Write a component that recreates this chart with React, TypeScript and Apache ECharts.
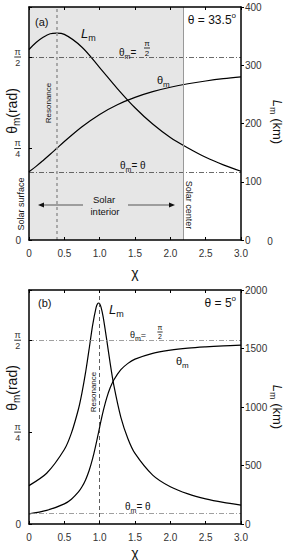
import React, { useEffect, useRef } from "react";
import * as echarts from "echarts";

// ---------- data ----------
// Panel (a): theta = 33.5 deg
const chiA = [0, 0.1, 0.2, 0.3, 0.39, 0.5, 0.75, 1.0, 1.25, 1.5, 1.75, 2.0, 2.25, 2.5, 2.75, 3.0];
const thetaMA = [0.585, 0.632, 0.683, 0.736, 0.785, 0.845, 0.972, 1.078, 1.161, 1.224, 1.273, 1.311, 1.341, 1.365, 1.385, 1.401];
const lmA = [327, 339, 348, 354, 355, 353, 331, 296, 260, 227, 199, 176, 158, 142, 129, 118];

// Panel (b): theta = 5 deg
const chiB = [0, 0.25, 0.5, 0.6, 0.7, 0.75, 0.8, 0.85, 0.9, 0.95, 0.97, 0.985, 1.0, 1.02, 1.05, 1.1, 1.15, 1.2, 1.3, 1.4, 1.5, 1.75, 2.0, 2.25, 2.5, 2.75, 3.0];
const thetaMB = [0.087, 0.116, 0.172, 0.212, 0.274, 0.318, 0.377, 0.455, 0.558, 0.687, 0.743, 0.785, 0.829, 0.885, 0.965, 1.078, 1.166, 1.231, 1.319, 1.373, 1.409, 1.459, 1.486, 1.503, 1.514, 1.522, 1.528];
const lmB = [328, 434, 637, 777, 983, 1123, 1293, 1492, 1698, 1852, 1882, 1889, 1882, 1851, 1768, 1574, 1368, 1186, 911, 729, 603, 418, 318, 257, 215, 185, 162];

const thetaA = (33.5 * Math.PI) / 180;
const thetaB = (5 * Math.PI) / 180;
const resonanceA = 0.39;
const resonanceB = 1.0;
const solarCenterChi = 2.18;

const xTickLabels = ["0", "0.5", "1.0", "1.5", "2.0", "2.5", "3.0"];
const rightMaxA = 400;
const rightStepA = 100;
const rightMaxB = 2000;
const rightStepB = 500;

const FONT = "'Liberation Sans', Arial, sans-serif";
const LABEL_COLOR = "#333";

const fracRich = (fs: number) => ({
  n: { fontSize: fs, lineHeight: fs, align: "center", fontFamily: FONT, color: LABEL_COLOR },
  b: { width: fs * 0.75, height: 1, lineHeight: 2, backgroundColor: "#333", fontSize: 1, align: "center" },
  d: { fontSize: fs, lineHeight: fs, align: "center", fontFamily: FONT, color: LABEL_COLOR },
});

function axesFor(grid: number, rMax: number, rStep: number) {
  const xBase = {
    type: "value",
    gridIndex: grid,
    min: 0,
    max: 3,
    interval: 0.5,
    splitLine: { show: false },
    axisLine: { show: true, onZero: false, lineStyle: { color: "#000", width: 1.5 } },
    axisTick: { show: true, inside: true, length: 3, lineStyle: { color: "#000", width: 1 } },
    z: 5,
  };
  const xs = [
    {
      ...xBase,
      position: "bottom",
      axisLabel: {
        color: LABEL_COLOR,
        fontSize: 10,
        fontFamily: FONT,
        margin: 8,
        formatter: (v: number) => xTickLabels[Math.round(v / 0.5)] ?? "",
      },
    },
    { ...xBase, position: "top", axisLabel: { show: false } },
  ];
  const ys = [
    {
      type: "value",
      gridIndex: grid,
      min: 0,
      max: 2,
      interval: Math.PI / 4,
      position: "left",
      splitLine: { show: false },
      axisLine: { show: true, onZero: false, lineStyle: { color: "#000", width: 1.5 } },
      axisTick: { show: true, inside: true, length: 3, lineStyle: { color: "#000" } },
      axisLabel: {
        margin: 8,
        color: LABEL_COLOR,
        fontSize: 10,
        fontFamily: FONT,
        rich: fracRich(9),
        formatter: (v: number) => {
          if (v === 0) return "0";
          if (Math.abs(v - Math.PI / 4) < 1e-6) return "{n|π}\n{b| }\n{d|4}";
          if (Math.abs(v - Math.PI / 2) < 1e-6) return "{n|π}\n{b| }\n{d|2}";
          return "";
        },
      },
      z: 5,
    },
    {
      type: "value",
      gridIndex: grid,
      min: 0,
      max: rMax,
      interval: rStep,
      position: "right",
      splitLine: { show: false },
      axisLine: { show: true, onZero: false, lineStyle: { color: "#000", width: 1.5 } },
      axisTick: { show: true, inside: false, length: 3, lineStyle: { color: "#000" } },
      axisLabel: {
        margin: 4,
        color: LABEL_COLOR,
        fontSize: 10,
        fontFamily: FONT,
        formatter: (v: number) => String(Math.round(v)),
      },
      z: 5,
    },
  ];
  return { xs, ys };
}

const dashDot = (color: string) => ({ color, width: 0.8, type: [5, 2, 1, 2] as any });

function curve(xIdx: number, yIdx: number, chi: number[], vals: number[], extra: any = {}) {
  return {
    type: "line",
    xAxisIndex: xIdx,
    yAxisIndex: yIdx,
    data: chi.map((c, i) => [c, vals[i]]),
    smooth: 0.35,
    symbol: "none",
    showSymbol: false,
    silent: true,
    lineStyle: { color: "#000", width: 1.2 },
    z: 3,
    ...extra,
  };
}

const sub = (main: number, s: number, italic = false) => ({
  t: { fontSize: main, lineHeight: main + 5, verticalAlign: "middle", fontFamily: FONT, fontStyle: italic ? "italic" : "normal", color: "#111" },
  s: { fontSize: s, lineHeight: s, verticalAlign: "bottom", fontFamily: FONT, color: "#111" },
  u: { fontSize: main, lineHeight: main + 5, verticalAlign: "middle", fontFamily: FONT, color: "#111" },
  o: { fontSize: s, lineHeight: s, verticalAlign: "top", fontFamily: FONT, color: "#111" },
});

function txt(x: number, y: number, text: string, opt: any = {}) {
  const align = opt.align ?? "center";
  const valign = opt.valign ?? "middle";
  return {
    type: "text",
    x,
    y,
    rotation: opt.rotation ?? 0,
    silent: true,
    z: 20,
    style: {
      text,
      fill: opt.color ?? "#111",
      fontSize: opt.fontSize ?? 10,
      fontFamily: FONT,
      fontStyle: opt.fontStyle ?? "normal",
      textAlign: align,
      textVerticalAlign: valign,
      align,
      verticalAlign: valign,
      rich: opt.rich,
    },
  };
}

function frac(x: number, y: number, d: string, fs: number) {
  return txt(x, y, `{n|π}\n{b| }\n{d|${d}}`, { rich: fracRich(fs) });
}

function arrow(x1: number, x2: number, y: number) {
  const dir = x2 > x1 ? 1 : -1;
  return [
    { type: "line", silent: true, z: 20, shape: { x1, y1: y, x2: x2 - dir * 4, y2: y }, style: { stroke: "#555", lineWidth: 1.2 } },
    {
      type: "polygon",
      silent: true,
      z: 20,
      shape: { points: [[x2, y], [x2 - dir * 6, y - 2.5], [x2 - dir * 6, y + 2.5]] },
      style: { fill: "#111" },
    },
  ];
}

function buildOption() {
  const a = axesFor(0, rightMaxA, rightStepA);
  const b = axesFor(1, rightMaxB, rightStepB);

  const series = [
    // panel (a) shaded solar interior
    {
      type: "line",
      xAxisIndex: 0,
      yAxisIndex: 0,
      data: [[0, 0]],
      symbol: "none",
      lineStyle: { opacity: 0 },
      silent: true,
      z: 1,
      markArea: {
        silent: true,
        itemStyle: { color: "#e6e6e6" },
        data: [[{ xAxis: 0 }, { xAxis: solarCenterChi }]],
      },
    },
    curve(0, 0, chiA, thetaMA, {
      markLine: {
        silent: true,
        symbol: "none",
        label: { show: false },
        data: [
          { yAxis: Math.PI / 2, lineStyle: dashDot("#444") },
          { yAxis: thetaA, lineStyle: dashDot("#444") },
          { xAxis: resonanceA, lineStyle: { color: "#9a9a9a", width: 1.6, type: [3, 3] } },
          { xAxis: solarCenterChi, lineStyle: { color: "#999", width: 1, type: "solid" } },
        ],
      },
    }),
    curve(0, 1, chiA, lmA),
    curve(2, 2, chiB, thetaMB, {
      markLine: {
        silent: true,
        symbol: "none",
        label: { show: false },
        data: [
          { yAxis: Math.PI / 2, lineStyle: dashDot("#888") },
          { yAxis: thetaB, lineStyle: dashDot("#888") },
          { xAxis: resonanceB, lineStyle: { color: "#333", width: 0.8, type: [4, 3] } },
        ],
      },
    }),
    curve(2, 3, chiB, lmB, { smooth: 0.25 }),
  ];

  const graphics: any[] = [
    // ---- panel (a) ----
    txt(35, 22, "(a)", { align: "left", fontSize: 11 }),
    txt(81, 33, "{t|L}{s|m}", { align: "left", rich: sub(13, 9, true) }),
    txt(236, 20, "{u|θ = 33.5}{o|o}", { align: "right", rich: sub(12, 8) }),
    txt(119, 52, "{u|θ}{s|m}{u|=}", { align: "left", rich: sub(10, 7) }),
    frac(147, 48, "2", 8),
    txt(157, 80, "{u|θ}{s|m}", { align: "left", rich: sub(11, 8) }),
    txt(120, 165, "{u|θ}{s|m}{u|= θ}", { align: "left", rich: sub(10, 7) }),
    txt(48, 103, "Resonance", { rotation: Math.PI / 2, fontSize: 8 }),
    txt(21, 204, "Solar surface", { rotation: Math.PI / 2, fontSize: 9 }),
    txt(189, 205, "Solar center", { rotation: -Math.PI / 2, fontSize: 9 }),
    txt(104, 199, "Solar", { fontSize: 9.5 }),
    txt(105, 211, "interior", { fontSize: 9.5 }),
    ...arrow(83, 38, 205),
    ...arrow(128, 175, 205),
    txt(12, 111, "{u|θ}{s|m}{u|(rad)}", { rotation: Math.PI / 2, rich: sub(14, 10) }),
    txt(277, 122, "{t|L}{s|m}{u| (km)}", { rotation: -Math.PI / 2, rich: sub(13, 9, true) }),
    txt(135, 273, "χ", { fontSize: 14 }),
    txt(270, 241, "0", { fontSize: 10, color: LABEL_COLOR }),
    // ---- panel (b) ----
    txt(38, 303, "(b)", { align: "left", fontSize: 11 }),
    txt(109, 309, "{t|L}{s|m}", { align: "left", rich: sub(13, 9, true) }),
    txt(236, 303, "{u|θ = 5}{o|o}", { align: "right", rich: sub(12, 8) }),
    txt(130, 335, "{u|θ}{s|m}{u|=}", { align: "left", rich: sub(9, 7) }),
    frac(160, 332, "2", 7),
    txt(176, 361, "{u|θ}{s|m}", { align: "left", rich: sub(11, 8) }),
    txt(125, 506, "{u|θ}{s|m}{u|= θ}", { align: "left", rich: sub(10, 7) }),
    txt(93, 392, "Resonance", { rotation: Math.PI / 2, fontSize: 8 }),
    txt(12, 388, "{u|θ}{s|m}{u|(rad)}", { rotation: Math.PI / 2, rich: sub(14, 10) }),
    txt(277, 407, "{t|L}{s|m}{u| (km)}", { rotation: -Math.PI / 2, rich: sub(13, 9, true) }),
    txt(135, 553, "χ", { fontSize: 14 }),
  ];

  return {
    animation: false,
    backgroundColor: "#fff",
    grid: [
      { left: 29, top: 7, width: 212, height: 233, containLabel: false },
      { left: 29, top: 290, width: 212, height: 234, containLabel: false },
    ],
    xAxis: [...a.xs, ...b.xs],
    yAxis: [...a.ys, ...b.ys],
    series,
    graphic: graphics,
  };
}

export default function App() {
  const ref = useRef<HTMLDivElement>(null);
  useEffect(() => {
    if (!ref.current) return;
    const chart = echarts.init(ref.current, null, { renderer: "svg" });
    chart.setOption(buildOption() as any);
    return () => chart.dispose();
  }, []);
  return (
    <div
      ref={ref}
      style={{ position: "absolute", left: 0, top: 0, width: 287, height: 560, background: "#fff" }}
    />
  );
}
